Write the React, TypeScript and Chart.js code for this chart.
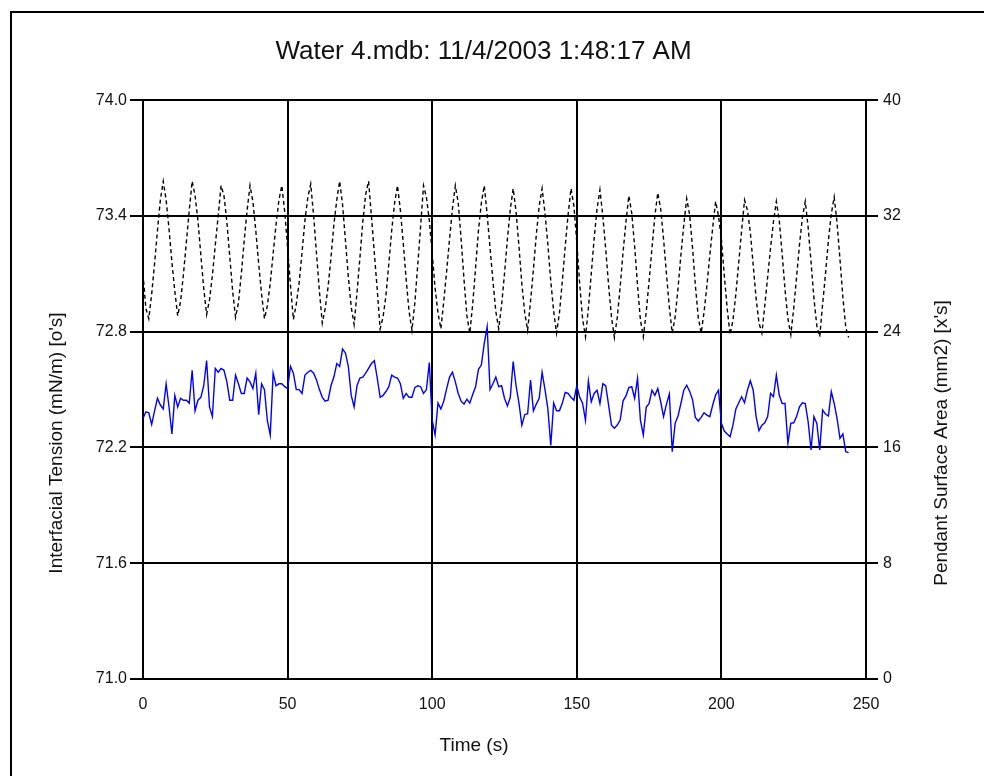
import { useEffect, useRef } from "react";
import { Chart, registerables } from "chart.js";

Chart.register(...registerables);

const TITLE = "Water 4.mdb: 11/4/2003 1:48:17 AM";
const X_TITLE = "Time (s)";
const Y_LEFT_TITLE = "Interfacial Tension (mN/m) [o's]";
const Y_RIGHT_TITLE = "Pendant Surface Area (mm2) [x's]";

const X_MIN = 0;
const X_MAX = 250;
const X_STEP = 50;
const LEFT_MIN = 71.0;
const LEFT_MAX = 74.0;
const LEFT_STEP = 0.6;
const RIGHT_MIN = 0;
const RIGHT_MAX = 40;
const RIGHT_STEP = 8;

// one reading per second, t = 0 … 244 s
const TIME = Array.from({ length: 245 }, (_, i) => i);

// Interfacial tension (mN/m), blue solid line, left axis
const TENSION = [
  72.35, 72.385, 72.38, 72.32, 72.39, 72.455, 72.42, 72.40, 72.53, 72.41,
  72.27, 72.47, 72.41, 72.455, 72.445, 72.445, 72.43, 72.60, 72.39, 72.445,
  72.46, 72.52, 72.65, 72.41, 72.36, 72.61, 72.59, 72.61, 72.60, 72.54,
  72.445, 72.445, 72.575, 72.53, 72.48, 72.48, 72.56, 72.54, 72.505, 72.585,
  72.37, 72.53, 72.50, 72.34, 72.265, 72.585, 72.52, 72.53, 72.53, 72.515,
  72.505, 72.62, 72.585, 72.50, 72.50, 72.48, 72.575, 72.59, 72.60, 72.585,
  72.55, 72.50, 72.46, 72.44, 72.445, 72.52, 72.565, 72.635, 72.62, 72.71,
  72.69, 72.62, 72.47, 72.41, 72.52, 72.56, 72.565, 72.585, 72.61, 72.635,
  72.65, 72.56, 72.46, 72.47, 72.49, 72.515, 72.575, 72.565, 72.56, 72.53,
  72.455, 72.48, 72.46, 72.46, 72.51, 72.52, 72.515, 72.48, 72.50, 72.64,
  72.34, 72.265, 72.43, 72.40, 72.44, 72.505, 72.565, 72.59, 72.54, 72.48,
  72.44, 72.425, 72.45, 72.43, 72.475, 72.515, 72.605, 72.627, 72.74, 72.826,
  72.50, 72.53, 72.565, 72.515, 72.52, 72.455, 72.415, 72.46, 72.645, 72.52,
  72.43, 72.315, 72.37, 72.375, 72.55, 72.39, 72.425, 72.455, 72.59, 72.50,
  72.40, 72.21, 72.43, 72.39, 72.39, 72.43, 72.485, 72.48, 72.46, 72.445,
  72.52, 72.46, 72.43, 72.34, 72.545, 72.437, 72.48, 72.497, 72.428, 72.53,
  72.52, 72.42, 72.315, 72.30, 72.316, 72.342, 72.442, 72.467, 72.51, 72.515,
  72.455, 72.558, 72.342, 72.265, 72.408, 72.428, 72.497, 72.47, 72.505, 72.437,
  72.36, 72.425, 72.477, 72.178, 72.325, 72.363, 72.428, 72.497, 72.523, 72.492,
  72.449, 72.356, 72.337, 72.356, 72.38, 72.368, 72.36, 72.42, 72.472, 72.497,
  72.325, 72.285, 72.27, 72.256, 72.316, 72.40, 72.432, 72.463, 72.432, 72.497,
  72.546, 72.497, 72.36, 72.287, 72.316, 72.328, 72.36, 72.48, 72.463, 72.575,
  72.472, 72.428, 72.428, 72.221, 72.325, 72.328, 72.36, 72.411, 72.432, 72.428,
  72.333, 72.187, 72.36, 72.325, 72.187, 72.394, 72.373, 72.363, 72.489, 72.428,
  72.35, 72.247, 72.27, 72.178, 72.173,
];

// Pendant drop surface area (mm2), black dotted line, right axis
const AREA = [
  28.0, 25.6, 24.9, 26.6, 28.7, 31.0, 33.1, 34.4, 33.1, 31.1,
  28.8, 26.8, 25.1, 26.1, 28.0, 30.2, 32.4, 34.4, 33.4, 31.7,
  29.3, 27.0, 25.2, 26.2, 27.9, 30.0, 32.0, 34.1, 33.4, 31.6,
  29.2, 26.8, 25.0, 26.0, 28.0, 30.3, 32.4, 34.1, 33.0, 31.0,
  28.7, 26.6, 24.9, 25.8, 27.35, 29.4, 31.4, 33.1, 34.1, 32.3,
  29.8, 27.2, 24.85, 25.9, 27.4, 29.5, 31.7, 33.3, 34.2, 32.0,
  29.4, 26.8, 24.6, 25.6, 27.1, 29.1, 31.4, 33.1, 34.4, 32.8,
  30.3, 27.8, 25.7, 24.5, 26.7, 29.1, 31.6, 33.5, 34.4, 31.95,
  29.4, 26.9, 24.2, 25.0, 26.5, 28.7, 31.0, 32.9, 34.1, 32.4,
  30.1, 27.6, 25.4, 24.1, 26.0, 28.6, 31.3, 34.1, 33.3, 31.7,
  29.4, 27.0, 25.3, 24.2, 26.1, 28.2, 30.4, 32.5, 34.1, 32.9,
  30.4, 27.6, 25.1, 23.9, 25.9, 28.4, 31.0, 32.9, 34.1, 32.1,
  29.8, 27.5, 25.4, 24.2, 25.85, 28.0, 30.4, 32.45, 33.9, 32.3,
  29.9, 27.3, 25.3, 24.1, 26.1, 28.3, 30.7, 32.7, 33.9, 32.2,
  30.0, 27.5, 25.4, 23.9, 25.3, 27.5, 29.9, 32.1, 33.9, 32.7,
  30.2, 27.3, 24.9, 23.65, 25.6, 28.0, 30.45, 32.5, 33.8, 32.0,
  29.7, 27.2, 25.0, 23.6, 25.0, 27.1, 29.5, 31.6, 33.4, 32.2,
  29.9, 27.2, 24.8, 23.65, 25.35, 27.5, 29.8, 32.0, 33.6, 32.5,
  30.4, 28.0, 25.7, 23.9, 25.0, 27.0, 29.3, 31.4, 33.2, 32.1,
  29.85, 27.2, 25.0, 23.9, 25.35, 27.2, 29.3, 31.2, 33.0, 32.0,
  30.4, 27.9, 25.6, 23.8, 24.8, 26.6, 28.8, 31.0, 33.1, 32.4,
  30.9, 28.6, 26.3, 24.6, 23.9, 25.8, 27.8, 29.8, 31.6, 33.0,
  31.7, 29.4, 26.9, 24.9, 23.8, 25.6, 27.8, 30.0, 31.9, 33.0,
  31.2, 28.8, 26.3, 24.4, 23.65, 25.9, 28.0, 30.3, 32.15, 33.3,
  31.5, 29.0, 26.4, 24.3, 23.6,
];

const FONT = '"Liberation Sans", Arial, Helvetica, sans-serif';
const TEXT = "#111111";
const LINE = "#000000";

const AXIS_TITLE_SIZE = 19;
const Y_TITLE_CENTER = 443;
const LEFT_TITLE_X = 57;
const RIGHT_TITLE_X = 942;
const X_TITLE_CENTER = 474;
const X_TITLE_Y = 746;

const axisTitlesPlugin = {
  id: "axisTitles",
  afterDraw(chart: any) {
    const ctx = chart.ctx as CanvasRenderingContext2D;
    ctx.save();
    ctx.font = `${AXIS_TITLE_SIZE}px ${FONT}`;
    ctx.fillStyle = TEXT;
    ctx.textAlign = "center";
    ctx.textBaseline = "middle";
    ctx.fillText(X_TITLE, X_TITLE_CENTER, X_TITLE_Y);
    ctx.save();
    ctx.translate(LEFT_TITLE_X, Y_TITLE_CENTER);
    ctx.rotate(-Math.PI / 2);
    ctx.fillText(Y_LEFT_TITLE, 0, 0);
    ctx.restore();
    ctx.save();
    ctx.translate(RIGHT_TITLE_X, Y_TITLE_CENTER);
    ctx.rotate(-Math.PI / 2);
    ctx.fillText(Y_RIGHT_TITLE, 0, 0);
    ctx.restore();
    ctx.restore();
  },
};

export default function App() {
  const ref = useRef<HTMLCanvasElement | null>(null);

  useEffect(() => {
    document.documentElement.style.overflow = "hidden";
    document.body.style.overflow = "hidden";
    const canvas = ref.current;
    if (!canvas) return;
    const tickFont = { family: FONT, size: 16 };
    const chart = new Chart(canvas, {
      type: "line",
      data: {
        datasets: [
          {
            label: "Tension",
            data: TIME.map((t, i) => ({ x: t, y: TENSION[i] })),
            yAxisID: "y",
            borderColor: "#0000ff",
            borderWidth: 1.4,
            pointRadius: 0,
            tension: 0,
            fill: false,
          },
          {
            label: "Area",
            data: TIME.map((t, i) => ({ x: t, y: AREA[i] })),
            yAxisID: "y2",
            borderColor: "#000000",
            borderWidth: 1.4,
            borderDash: [4, 3],
            pointRadius: 0,
            tension: 0,
            fill: false,
          },
        ],
      },
      options: {
        responsive: false,
        animation: false,
        events: [],
        layout: { padding: { left: 0, right: 17, top: 0, bottom: 0 } },
        plugins: {
          legend: { display: false },
          tooltip: { enabled: false },
          title: {
            display: true,
            text: TITLE,
            color: TEXT,
            font: { family: FONT, size: 26, weight: "normal" as any, lineHeight: 1.2 },
            padding: { top: 36, bottom: 33 },
          },
        },
        scales: {
          x: {
            type: "linear",
            min: X_MIN,
            max: X_MAX,
            ticks: { stepSize: X_STEP, padding: 16, color: TEXT, font: tickFont },
            grid: { color: LINE, lineWidth: 2, drawTicks: false },
            border: { color: LINE, width: 2 },
            afterFit: (s: any) => {
              s.height = 97;
            },
          },
          y: {
            type: "linear",
            position: "left",
            min: LEFT_MIN,
            max: LEFT_MAX,
            ticks: {
              stepSize: LEFT_STEP,
              padding: 3,
              color: TEXT,
              font: tickFont,
              callback: (v: any) => Number(v).toFixed(1),
            },
            grid: { color: LINE, lineWidth: 2, tickLength: 13 },
            border: { color: LINE, width: 2 },
            afterFit: (s: any) => {
              s.width = 143;
            },
          },
          y2: {
            type: "linear",
            position: "right",
            min: RIGHT_MIN,
            max: RIGHT_MAX,
            ticks: { stepSize: RIGHT_STEP, padding: 5, color: TEXT, font: tickFont },
            grid: { color: LINE, lineWidth: 2, tickLength: 12, drawOnChartArea: false },
            border: { color: LINE, width: 2 },
            afterFit: (s: any) => {
              s.width = 101;
            },
          },
        },
      },
      plugins: [axisTitlesPlugin],
    } as any);
    return () => chart.destroy();
  }, []);

  return (
    <>
      <div
        style={{
          position: "fixed",
          left: 10,
          top: 11,
          width: 1000,
          height: 900,
          border: "2px solid #000",
          boxSizing: "border-box",
          background: "#fff",
        }}
      />
      <canvas
        ref={ref}
        width={984}
        height={776}
        style={{ position: "fixed", left: 0, top: 0, width: 984, height: 776, zIndex: 1 }}
      />
    </>
  );
}
